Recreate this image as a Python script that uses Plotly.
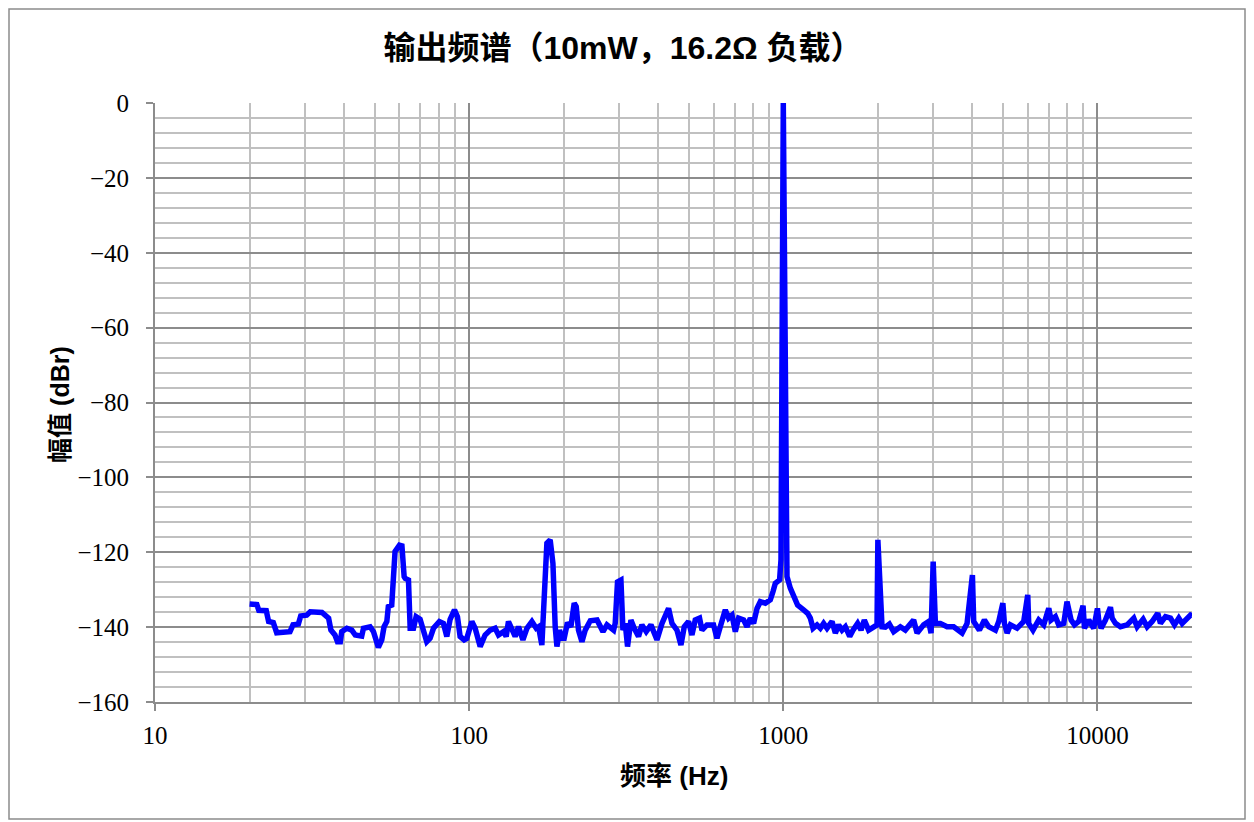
import plotly.graph_objects as go

# ---- data ----
freq_hz = [
    20, 21.1, 21.4, 22.6, 23.0, 23.8, 24.4, 26.9, 27.5, 28.6, 29.1, 30.4, 31.2, 34.0, 35.7, 36.3,
    37.4, 38.1, 38.9, 39.3, 40.8, 42.3, 43.4, 45.5, 46.1, 48.4, 49.6, 50.8, 51.4, 52.7, 53.6, 54.7,
    55.3, 56.7, 57.2, 58.1, 60.0, 61.1, 62.1, 62.6, 64.1, 64.9, 66.5, 67.8, 69.8, 71.5, 73.3, 75.1,
    77.0, 80.4, 82.8, 84.9, 87.0, 89.8, 91.8, 93.6, 96.4, 98.3, 102, 104.5, 108.4, 112.4, 116.7,
    121, 124, 128.6, 131.2, 133.4, 136.8, 140.1, 143.6, 148.3, 152.7, 158.4, 163.5, 166.3, 170.4,
    173.4, 176.8, 181.1, 184.8, 187.9, 190.3, 193.9, 197.4, 200.7, 205.6, 210.8, 216, 219.2, 222.9,
    228.6, 234.2, 243, 255.3, 266.7, 274.6, 288.3, 291.7, 296.7, 304.2, 308.7, 314, 319.3, 327.3,
    335.4, 346.1, 354.8, 366.2, 379.1, 396.1, 411, 421, 431.3, 442.2, 458.7, 472.3, 483.9, 499.4,
    512, 524.5, 541.3, 551, 571.5, 599.8, 615, 630.1, 653.8, 669.8, 686.7, 703.5, 720.7, 747.7,
    766.6, 785.3, 804.5, 824.8, 845.1, 876.6, 909.3, 927.5, 943.2, 973.2, 983.3, 1000, 1017,
    1027.5, 1052.7, 1078.6, 1110.6, 1160.5, 1195.2, 1219, 1243.5, 1280.4, 1311.8, 1344, 1378,
    1429.5, 1464.5, 1500, 1538, 1576, 1627, 1667, 1724, 1768, 1811, 1869, 1939, 1988, 2000, 2062,
    2113, 2176, 2246, 2358, 2446, 2519, 2600, 2666, 2798, 2902, 2954, 3000, 3049, 3162, 3321, 3486,
    3583, 3708, 3846, 4000, 4038, 4210, 4367, 4507, 4734, 4851, 5000, 5057, 5158, 5285, 5548, 5826,
    6000, 6043, 6237, 6503, 6745, 7000, 7120, 7349, 7530, 7811, 8000, 8247, 8452, 8720, 9000, 9092,
    9382, 9731, 10000, 10095, 10276, 10605, 11000, 11140, 11410, 11835, 12434, 13050, 13378, 13980,
    14397, 14935, 15560, 15871, 16468, 17083, 17592, 18155, 18612, 19070, 19780, 20000,
]
level_dbr = [
    -133.8, -134, -135.5, -135.6, -138.5, -138.8, -141.5, -141.2, -139.4, -139.2, -137, -136.8,
    -135.9, -136.1, -137.6, -140.8, -142.1, -143.9, -143.9, -141.2, -140.3, -140.8, -142.1, -142.4,
    -140.3, -139.9, -141.2, -143.9, -145.4, -143.4, -139.9, -138.5, -134.5, -134.1, -125.6, -119.8,
    -118.1, -118.3, -126.5, -127, -127.4, -140.3, -140.3, -137.2, -137.9, -141.2, -143.9, -143,
    -140.3, -138.5, -139, -142.5, -137.9, -135.4, -137.2, -142.5, -143.4, -143, -138.5, -140.3,
    -145.2, -142.1, -140.8, -140.3, -142.1, -141.2, -142.5, -138.5, -140.3, -142.5, -139.9, -143.4,
    -140.3, -138.5, -140.3, -139.9, -144.8, -131.9, -117.6, -116.7, -123, -139.9, -145.2, -140.8,
    -143, -143, -138.8, -139.9, -133.6, -134.5, -140.8, -143.9, -140.8, -138.3, -138.1, -141.2,
    -139.4, -140.8, -139, -127.9, -127.4, -140.8, -139, -145.2, -138.1, -140.3, -142.5, -139.4,
    -141.2, -139.4, -143.4, -139, -137.2, -135, -139, -140.8, -144.8, -139.9, -138.5, -142.1,
    -138.1, -137.6, -140.8, -139.4, -139.4, -143, -139.9, -135.4, -137.6, -136.8, -141.2, -137.6,
    -138.1, -139.9, -137.6, -139, -135, -133.2, -133.6, -132.7, -130.5, -128.3, -127.4, -122, 0,
    -120, -126.5, -129.6, -131.9, -134.1, -135.4, -136.3, -137.6, -140.3, -139.4, -140.3, -139,
    -140.3, -138.5, -141.6, -139.4, -140.8, -139.9, -142.5, -140.8, -139, -140.8, -138.1, -140.8,
    -139.9, -139.4, -116.7, -139.9, -140, -139.2, -141.2, -139.9, -140.8, -139.5, -138.1, -141.6,
    -139.4, -138.5, -141.6, -122.5, -139, -139, -139.9, -139.9, -140.5, -141.6, -139, -126.1,
    -138.5, -140.8, -138.1, -139.9, -140.8, -138.5, -133.6, -139, -141.6, -139.4, -140.3, -138.5,
    -131.4, -139, -140.8, -138.1, -139.4, -135, -138.1, -137.2, -139.4, -139, -133.2, -138.1,
    -139.4, -138.5, -134.3, -140.3, -138.1, -140.3, -135, -138.1, -140.3, -138.1, -134.7, -137.6,
    -139, -139.9, -139.4, -137.6, -139.9, -137.9, -139.9, -138.5, -136.3, -139, -137.2, -137.6,
    -139.4, -137.6, -139, -137.9, -136.8, -137,
]

x_major_ticks = [10, 100, 1000, 10000]
x_major_labels = ["10", "100", "1000", "10000"]
x_minor_ticks = [m * d for d in (10, 100, 1000) for m in range(2, 10)] + [20000]

title_text = "输出频谱（10mW，16.2Ω 负载）"
x_title = "频率 (Hz)"
y_title = "幅值 (dBr)"

# page body has an 8px margin; figure occupies page x 8..1254, y 8..822
W, H = 1246, 814
L, R, T, B = 147, 62, 95, 120
PW, PH = W - L - R, H - T - B

sans = "Liberation Sans, Arial, Noto Sans CJK SC, sans-serif"
serif = "Liberation Serif, Times New Roman, serif"

fig = go.Figure()
fig.add_trace(go.Scatter(
    x=freq_hz, y=level_dbr, mode="lines",
    line=dict(color="#0000FF", width=5.5), showlegend=False, hoverinfo="x+y",
))

fig.update_layout(
    width=W, height=H,
    margin=dict(l=L, r=R, t=T, b=B),
    paper_bgcolor="white", plot_bgcolor="white",
    title=dict(text=title_text, x=615 / W, xref="container",
               y=1 - 40 / H, yanchor="middle",
               font=dict(family=sans, size=32, color="black", weight=700)),
    xaxis=dict(
        type="log", range=[1, 4.30103],
        tickmode="array", tickvals=x_major_ticks, ticktext=x_major_labels,
        showgrid=True, gridcolor="#8C8C8C", gridwidth=2,
        ticks="outside", ticklen=7, tickcolor="#8C8C8C", tickwidth=2,
        ticklabelstandoff=3,
        showline=True, linecolor="#8C8C8C", linewidth=2,
        tickfont=dict(family=serif, size=25, color="black"),
        minor=dict(tickmode="array", tickvals=x_minor_ticks, showgrid=True,
                   gridcolor="#C0C0C0", gridwidth=2, ticks=""),
        zeroline=False,
    ),
    yaxis=dict(
        range=[-160, 0], tick0=0, dtick=20,
        showgrid=True, gridcolor="#8C8C8C", gridwidth=2,
        ticks="outside", ticklen=7, tickcolor="#8C8C8C", tickwidth=2,
        ticklabelstandoff=12,
        showline=True, linecolor="#8C8C8C", linewidth=2,
        tickfont=dict(family=serif, size=25, color="black"),
        minor=dict(dtick=4, tick0=0, showgrid=True, gridcolor="#C0C0C0", gridwidth=2, ticks=""),
        zeroline=False,
    ),
    annotations=[
        dict(text=x_title, xref="paper", yref="paper", x=0.5, y=(-74) / PH,
             xanchor="center", yanchor="middle", showarrow=False,
             font=dict(family=sans, size=26, color="black", weight=700)),
        dict(text=y_title, xref="paper", yref="paper", x=(52 - L) / PW, y=0.496,
             xanchor="center", yanchor="middle", showarrow=False, textangle=-90,
             font=dict(family=sans, size=25, color="black", weight=700)),
    ],
    shapes=[
        dict(type="rect", xref="paper", yref="paper", layer="below",
             x0=(1 - L) / PW, x1=(1237 - L) / PW, y0=(PH + T - 811) / PH, y1=(PH + T - 1) / PH,
             line=dict(color="#8C8C8C", width=1.5), fillcolor="rgba(0,0,0,0)"),
    ],
)

fig.write_html("out.html")
